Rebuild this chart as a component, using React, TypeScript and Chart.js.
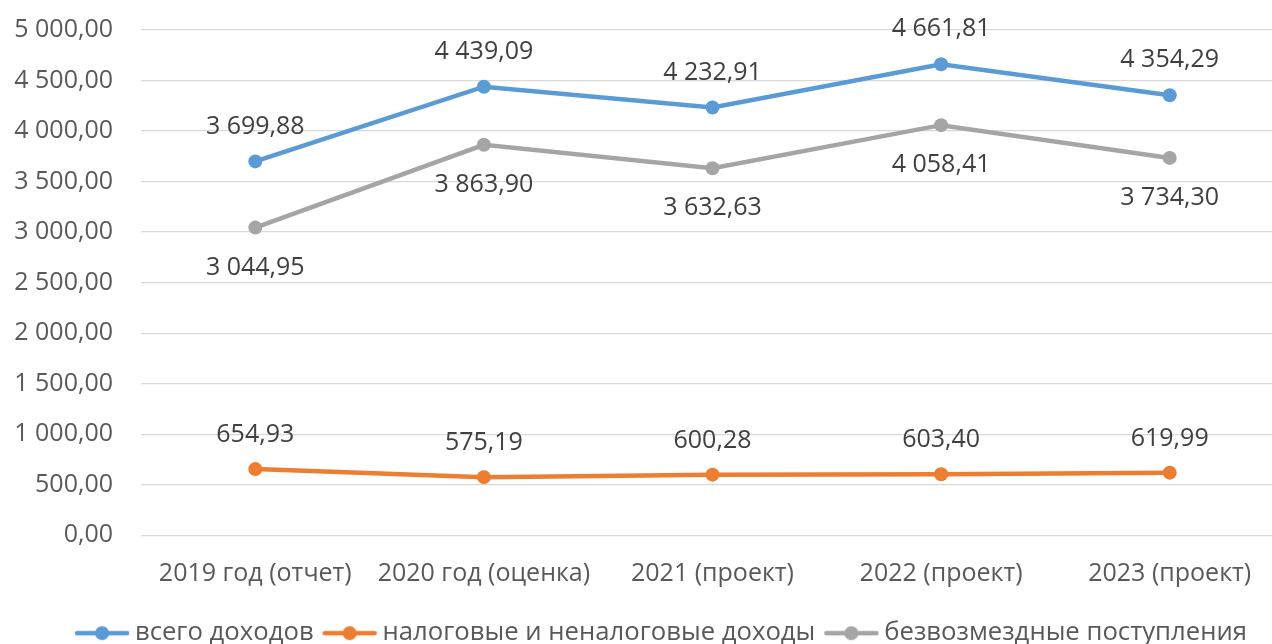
import React, { useEffect, useRef } from "react";
import { Chart, registerables } from "chart.js";

Chart.register(...registerables);

const categories = ["2019 год (отчет)", "2020 год (оценка)", "2021 (проект)", "2022 (проект)", "2023 (проект)"];
const seriesNames = ["всего доходов", "налоговые и неналоговые доходы", "безвозмездные поступления"];
const totalIncome = [3699.88, 4439.09, 4232.91, 4661.81, 4354.29];
const taxIncome = [654.93, 575.19, 600.28, 603.4, 619.99];
const grantIncome = [3044.95, 3863.9, 3632.63, 4058.41, 3734.3];
const yTicks = { min: 0, max: 5000, step: 500 };

const FONT = "'Open Sans', 'Noto Sans', sans-serif";

function fmt(v: number): string {
  const [i, d] = Math.abs(v).toFixed(2).split(".");
  const g = i.replace(/\B(?=(\d{3})+(?!\d))/g, " ");
  return (v < 0 ? "-" : "") + g + "," + d;
}

function legendIcon(color: string): HTMLCanvasElement {
  const c = document.createElement("canvas");
  c.width = 56;
  c.height = 16;
  const ctx = c.getContext("2d")!;
  ctx.strokeStyle = color;
  ctx.lineWidth = 4.5;
  ctx.lineCap = "round";
  ctx.beginPath();
  ctx.moveTo(3, 8);
  ctx.lineTo(53, 8);
  ctx.stroke();
  ctx.fillStyle = color;
  ctx.beginPath();
  ctx.arc(28, 8, 7, 0, Math.PI * 2);
  ctx.fill();
  return c;
}

const labelPlugin = {
  id: "valueLabels",
  afterLayout(chart: any) {
    const lg = chart.legend;
    if (lg) {
      lg.left += 19;
      lg.right += 19;
    }
  },
  afterDatasetsDraw(chart: any) {
    const ctx = chart.ctx;
    ctx.save();
    ctx.font = `25px ${FONT}`;
    ctx.fillStyle = "#404040";
    ctx.textAlign = "center";
    ctx.textBaseline = "middle";
    chart.data.datasets.forEach((ds: any, di: number) => {
      const meta = chart.getDatasetMeta(di);
      meta.data.forEach((pt: any, i: number) => {
        const off = ds.labelOffset ?? -36;
        ctx.fillText(fmt(ds.data[i]), pt.x, pt.y + off);
      });
    });
    ctx.restore();
  },
};

export default function App() {
  const ref = useRef<HTMLCanvasElement>(null);
  useEffect(() => {
    document.body.style.margin = "0";
    const colors = ["#5B9BD5", "#ED7D31", "#A5A5A5"];
    const values = [totalIncome, taxIncome, grantIncome];
    const offsets = [-35, -34, 40];
    const chart = new Chart(ref.current!, {
      type: "line",
      data: {
        labels: categories,
        datasets: values.map((v, i) => ({
          label: seriesNames[i],
          data: v,
          borderColor: colors[i],
          backgroundColor: colors[i],
          borderWidth: 4.5,
          pointRadius: 7,
          pointHoverRadius: 7,
          pointBorderWidth: 0,
          pointStyle: "circle",
          labelOffset: offsets[i],
          tension: 0,
        })) as any,
      },
      options: {
        animation: false,
        responsive: false,
        maintainAspectRatio: false,
        events: [],
        layout: { padding: { top: 30, left: 0, right: 0, bottom: 0 } },
        plugins: {
          tooltip: { enabled: false },
          legend: {
            position: "bottom",
            labels: {
              usePointStyle: true,
              pointStyleWidth: 40,
              boxHeight: 16,
              padding: 16,
              color: "#595959",
              font: { family: FONT, size: 25.7 },
              generateLabels(chart: any) {
                return chart.data.datasets.map((ds: any, i: number) => ({
                  text: ds.label,
                  fillStyle: ds.borderColor,
                  strokeStyle: ds.borderColor,
                  lineWidth: 0,
                  pointStyle: legendIcon(ds.borderColor),
                  datasetIndex: i,
                  hidden: false,
                  fontColor: "#595959",
                }));
              },
            },
          },
        },
        scales: {
          x: {
            offset: true,
            afterFit(scale: any) {
              scale.height = 69;
            },
            grid: { display: false },
            border: { display: false },
            ticks: { color: "#595959", font: { family: FONT, size: 25 }, padding: 16, maxRotation: 0, autoSkip: false },
          },
          y: {
            min: yTicks.min,
            max: yTicks.max,
            afterFit(scale: any) {
              scale.width = 141;
              scale.paddingTop = 0;
              scale.paddingBottom = 0;
            },
            grid: { color: "#D9D9D9", lineWidth: 1.3, drawTicks: false },
            border: { display: false },
            ticks: {
              stepSize: yTicks.step,
              padding: 28,
              color: "#595959",
              font: { family: FONT, size: 25 },
              callback: (v: any) => fmt(Number(v)),
            },
          },
        },
      },
      plugins: [labelPlugin],
    });
    return () => chart.destroy();
  }, []);
  return (
    <div style={{ width: 1272, height: 644, overflow: "hidden", position: "relative" }}>
      <canvas ref={ref} width={1291} height={656} style={{ display: "block", width: 1291, height: 656 }} />
    </div>
  );
}
